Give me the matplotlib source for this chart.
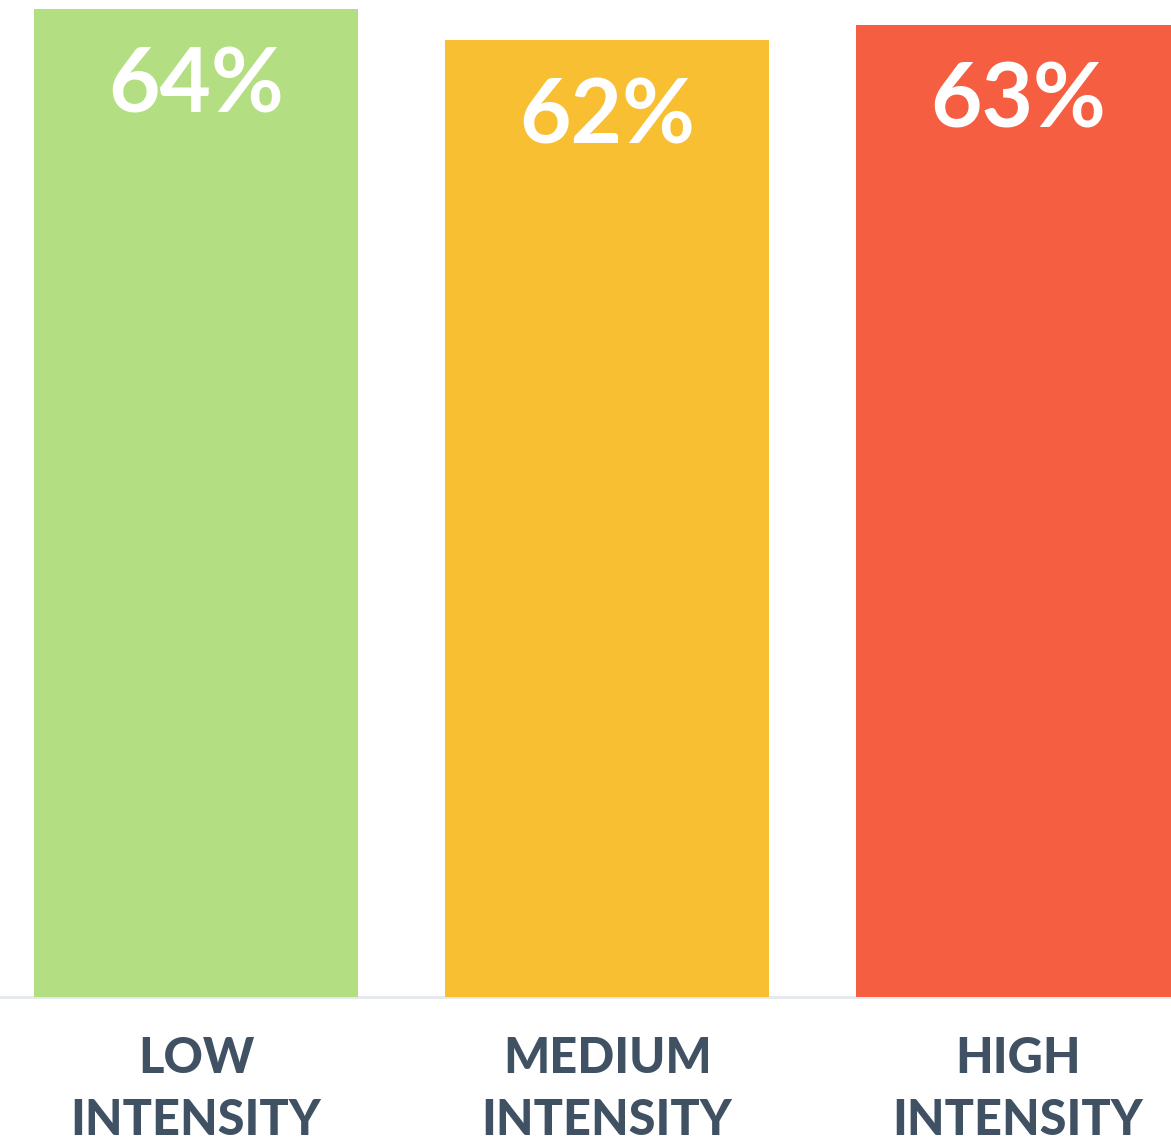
import matplotlib.pyplot as plt

# survey share by workout intensity
categories = ["LOW\nINTENSITY", "MEDIUM\nINTENSITY", "HIGH\nINTENSITY"]
values = [64, 62, 63]
colors = ["#B3DE81", "#F8BF33", "#F55E40"]

plt.rcParams["font.family"] = ["Lato", "DejaVu Sans"]

fig = plt.figure(figsize=(11.71, 11.44), dpi=100)
ax = fig.add_axes([0, 147 / 1144, 1, 997 / 1144])

x = range(len(values))
bars = ax.bar(x, values, width=0.788, color=colors, zorder=2)

ax.axhline(0, color="#E4E8EC", linewidth=2, zorder=1, clip_on=False)

for xi, v in zip(x, values):
    ax.annotate(f"{v}%", xy=(xi, v), xytext=(0, -26), textcoords="offset points",
                ha="center", va="top", fontsize=64, fontweight="bold",
                color="white", zorder=3)

ax.set_xlim(-0.477, 2.372)
ax.set_ylim(0, 64.6)

ax.set_xticks(list(x))
ax.set_xticklabels(categories, fontsize=35, fontweight="black",
                   color="#3F5163", linespacing=1.45)
ax.tick_params(axis="x", length=0, pad=28)
ax.set_yticks([])
for s in ax.spines.values():
    s.set_visible(False)

fig.savefig("out.png", dpi=100)
